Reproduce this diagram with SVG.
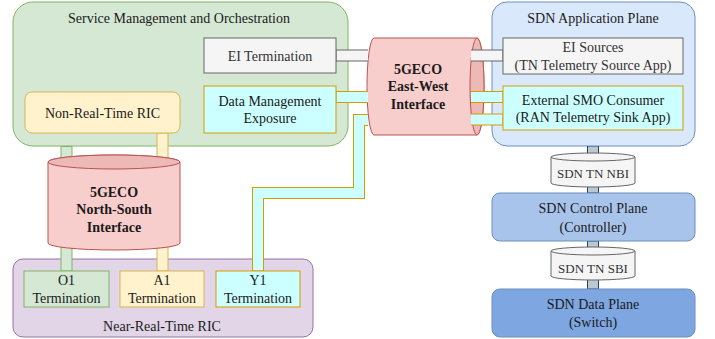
<svg xmlns="http://www.w3.org/2000/svg" width="715" height="339" viewBox="0 0 715 339">
<style>
text{font-family:"Liberation Serif","Times New Roman",serif;font-size:14px;fill:#1a1a1a;text-anchor:middle}
.b{font-weight:bold}
.g{fill:#333333}
.s13{font-size:13px}
.green{fill:#d5e8d4;stroke:#82b366}
.yellow{fill:#fff2cc;stroke:#d6b656}
.cyan{fill:#ccffff;stroke:#d79b00}
.grey{fill:#f5f5f5;stroke:#666666}
.blue{fill:#dae8fc;stroke:#6c8ebf}
.purple{fill:#e1d5e7;stroke:#9673a6}
.red{fill:#f8cecc;stroke:#b85450}
.redtop{fill:#ecb9b7;stroke:#b85450}
.o{fill:none;stroke-width:12;stroke-linejoin:miter}
.i{fill:none;stroke-width:10;stroke-linejoin:miter}
</style>
<g id="smo">
<rect class="green" x="13" y="2" width="335" height="144" rx="20"/>
<text x="179" y="23">Service Management and Orchestration</text>
</g>
<g id="near-rt-ric">
<rect class="purple" x="13" y="259" width="300" height="78" rx="10"/>
<text x="162" y="331">Near-Real-Time RIC</text>
</g>
<g id="sdn-app-plane">
<rect class="blue" x="492" y="2" width="203" height="144" rx="15"/>
<text x="593" y="23">SDN Application Plane</text>
</g>
<g id="east-west">
<path class="red" d="M374,38 L477,38 A7,48.5 0 0 1 477,135 L374,135 A7,48.5 0 0 1 374,38 Z"/>
<ellipse class="redtop" cx="477" cy="86.5" rx="7" ry="48.5"/>
<text class="b" x="418" y="74">5GECO</text>
<text class="b" x="418" y="91">East-West</text>
<text class="b" x="418" y="109">Interface</text>
</g>
<g id="connectors">
<path class="o" stroke="#82b366" d="M66.5,146 V271"/>
<path class="i" stroke="#d5e8d4" d="M66.5,147 V270.5"/>
<path class="o" stroke="#d6b656" d="M162.5,133 V271"/>
<path class="i" stroke="#fff2cc" d="M162.5,133.5 V270.5"/>
<path class="o" stroke="#666666" d="M336,55.5 H368 M471,55.5 H503"/>
<path class="i" stroke="#f5f5f5" d="M336.5,55.5 H368 M471,55.5 H502.5"/>
<path class="o" stroke="#d79b00" d="M336,97 H368 M471,97 H503 M471,119.5 H503"/>
<path class="i" stroke="#ccffff" d="M336.5,97 H368 M471,97 H502.5 M471,119.5 H502.5"/>
<path class="o" stroke="#d79b00" d="M258,271 V193 H359 V120 H368"/>
<path class="i" stroke="#ccffff" d="M258,270.5 V193 H359 V120 H368"/>
<path class="o" stroke="#23445d" d="M593,146 V158 M593,184 V193 M593,241 V252 M593,277 V289"/>
<path class="i" stroke="#bac8d3" d="M593,146.5 V158 M593,184 V192.5 M593,241.5 V252 M593,277 V288.5"/>
</g>
<g id="ei-termination">
<rect class="grey" x="204" y="38" width="132" height="35"/>
<text class="g" x="270" y="60.5">EI Termination</text>
</g>
<g id="dme">
<rect class="cyan" x="204" y="86" width="132" height="47"/>
<text x="270" y="106">Data Management</text>
<text x="270" y="123">Exposure</text>
</g>
<g id="non-rt-ric">
<rect class="yellow" x="25" y="92" width="155" height="41" rx="7"/>
<text x="102.5" y="117.5">Non-Real-Time RIC</text>
</g>
<g id="north-south">
<path class="red" d="M48,162 A66,7 0 0 1 180,162 V243 A66,7 0 0 1 48,243 Z"/>
<ellipse class="redtop" cx="114" cy="162" rx="66" ry="7"/>
<text class="b" x="114" y="197">5GECO</text>
<text class="b" x="114" y="214">North-South</text>
<text class="b" x="114" y="232">Interface</text>
</g>
<g id="o1">
<rect class="green" x="24" y="271" width="85" height="36"/>
<text x="66.5" y="285">O1</text>
<text x="66.5" y="303">Termination</text>
</g>
<g id="a1">
<rect class="yellow" x="120" y="271" width="84" height="36"/>
<text x="162" y="285">A1</text>
<text x="162" y="303">Termination</text>
</g>
<g id="y1">
<rect class="cyan" x="216" y="271" width="84" height="36"/>
<text x="258" y="285">Y1</text>
<text x="258" y="303">Termination</text>
</g>
<g id="ei-sources">
<rect class="grey" x="503" y="38" width="180" height="36"/>
<text class="g" x="593" y="52">EI Sources</text>
<text class="g" x="593" y="70">(TN Telemetry Source App)</text>
</g>
<g id="ext-smo">
<rect class="cyan" x="503" y="86" width="180" height="44"/>
<text x="593" y="105">External SMO Consumer</text>
<text x="593" y="122">(RAN Telemetry Sink App)</text>
</g>
<g id="nbi">
<path class="grey" d="M551,157 A42,4 0 0 1 635,157 V183 A42,4 0 0 1 551,183 Z"/>
<path class="grey" d="M551,157 A42,4 0 0 0 635,157" fill="none"/>
<text class="g s13" x="593" y="177.5">SDN TN NBI</text>
</g>
<g id="control-plane">
<rect x="492" y="193" width="203" height="48" rx="8" fill="#a9c4eb" stroke="#6c8ebf"/>
<text x="593" y="213">SDN Control Plane</text>
<text x="593" y="232">(Controller)</text>
</g>
<g id="sbi">
<path class="grey" d="M551,251 A42,4 0 0 1 635,251 V276 A42,4 0 0 1 551,276 Z"/>
<path class="grey" d="M551,251 A42,4 0 0 0 635,251" fill="none"/>
<text class="g s13" x="593" y="272.5">SDN TN SBI</text>
</g>
<g id="data-plane">
<rect x="492" y="289" width="203" height="48" rx="8" fill="#7ea6e0" stroke="#6c8ebf"/>
<text x="593" y="309">SDN Data Plane</text>
<text x="593" y="327">(Switch)</text>
</g>
</svg>
